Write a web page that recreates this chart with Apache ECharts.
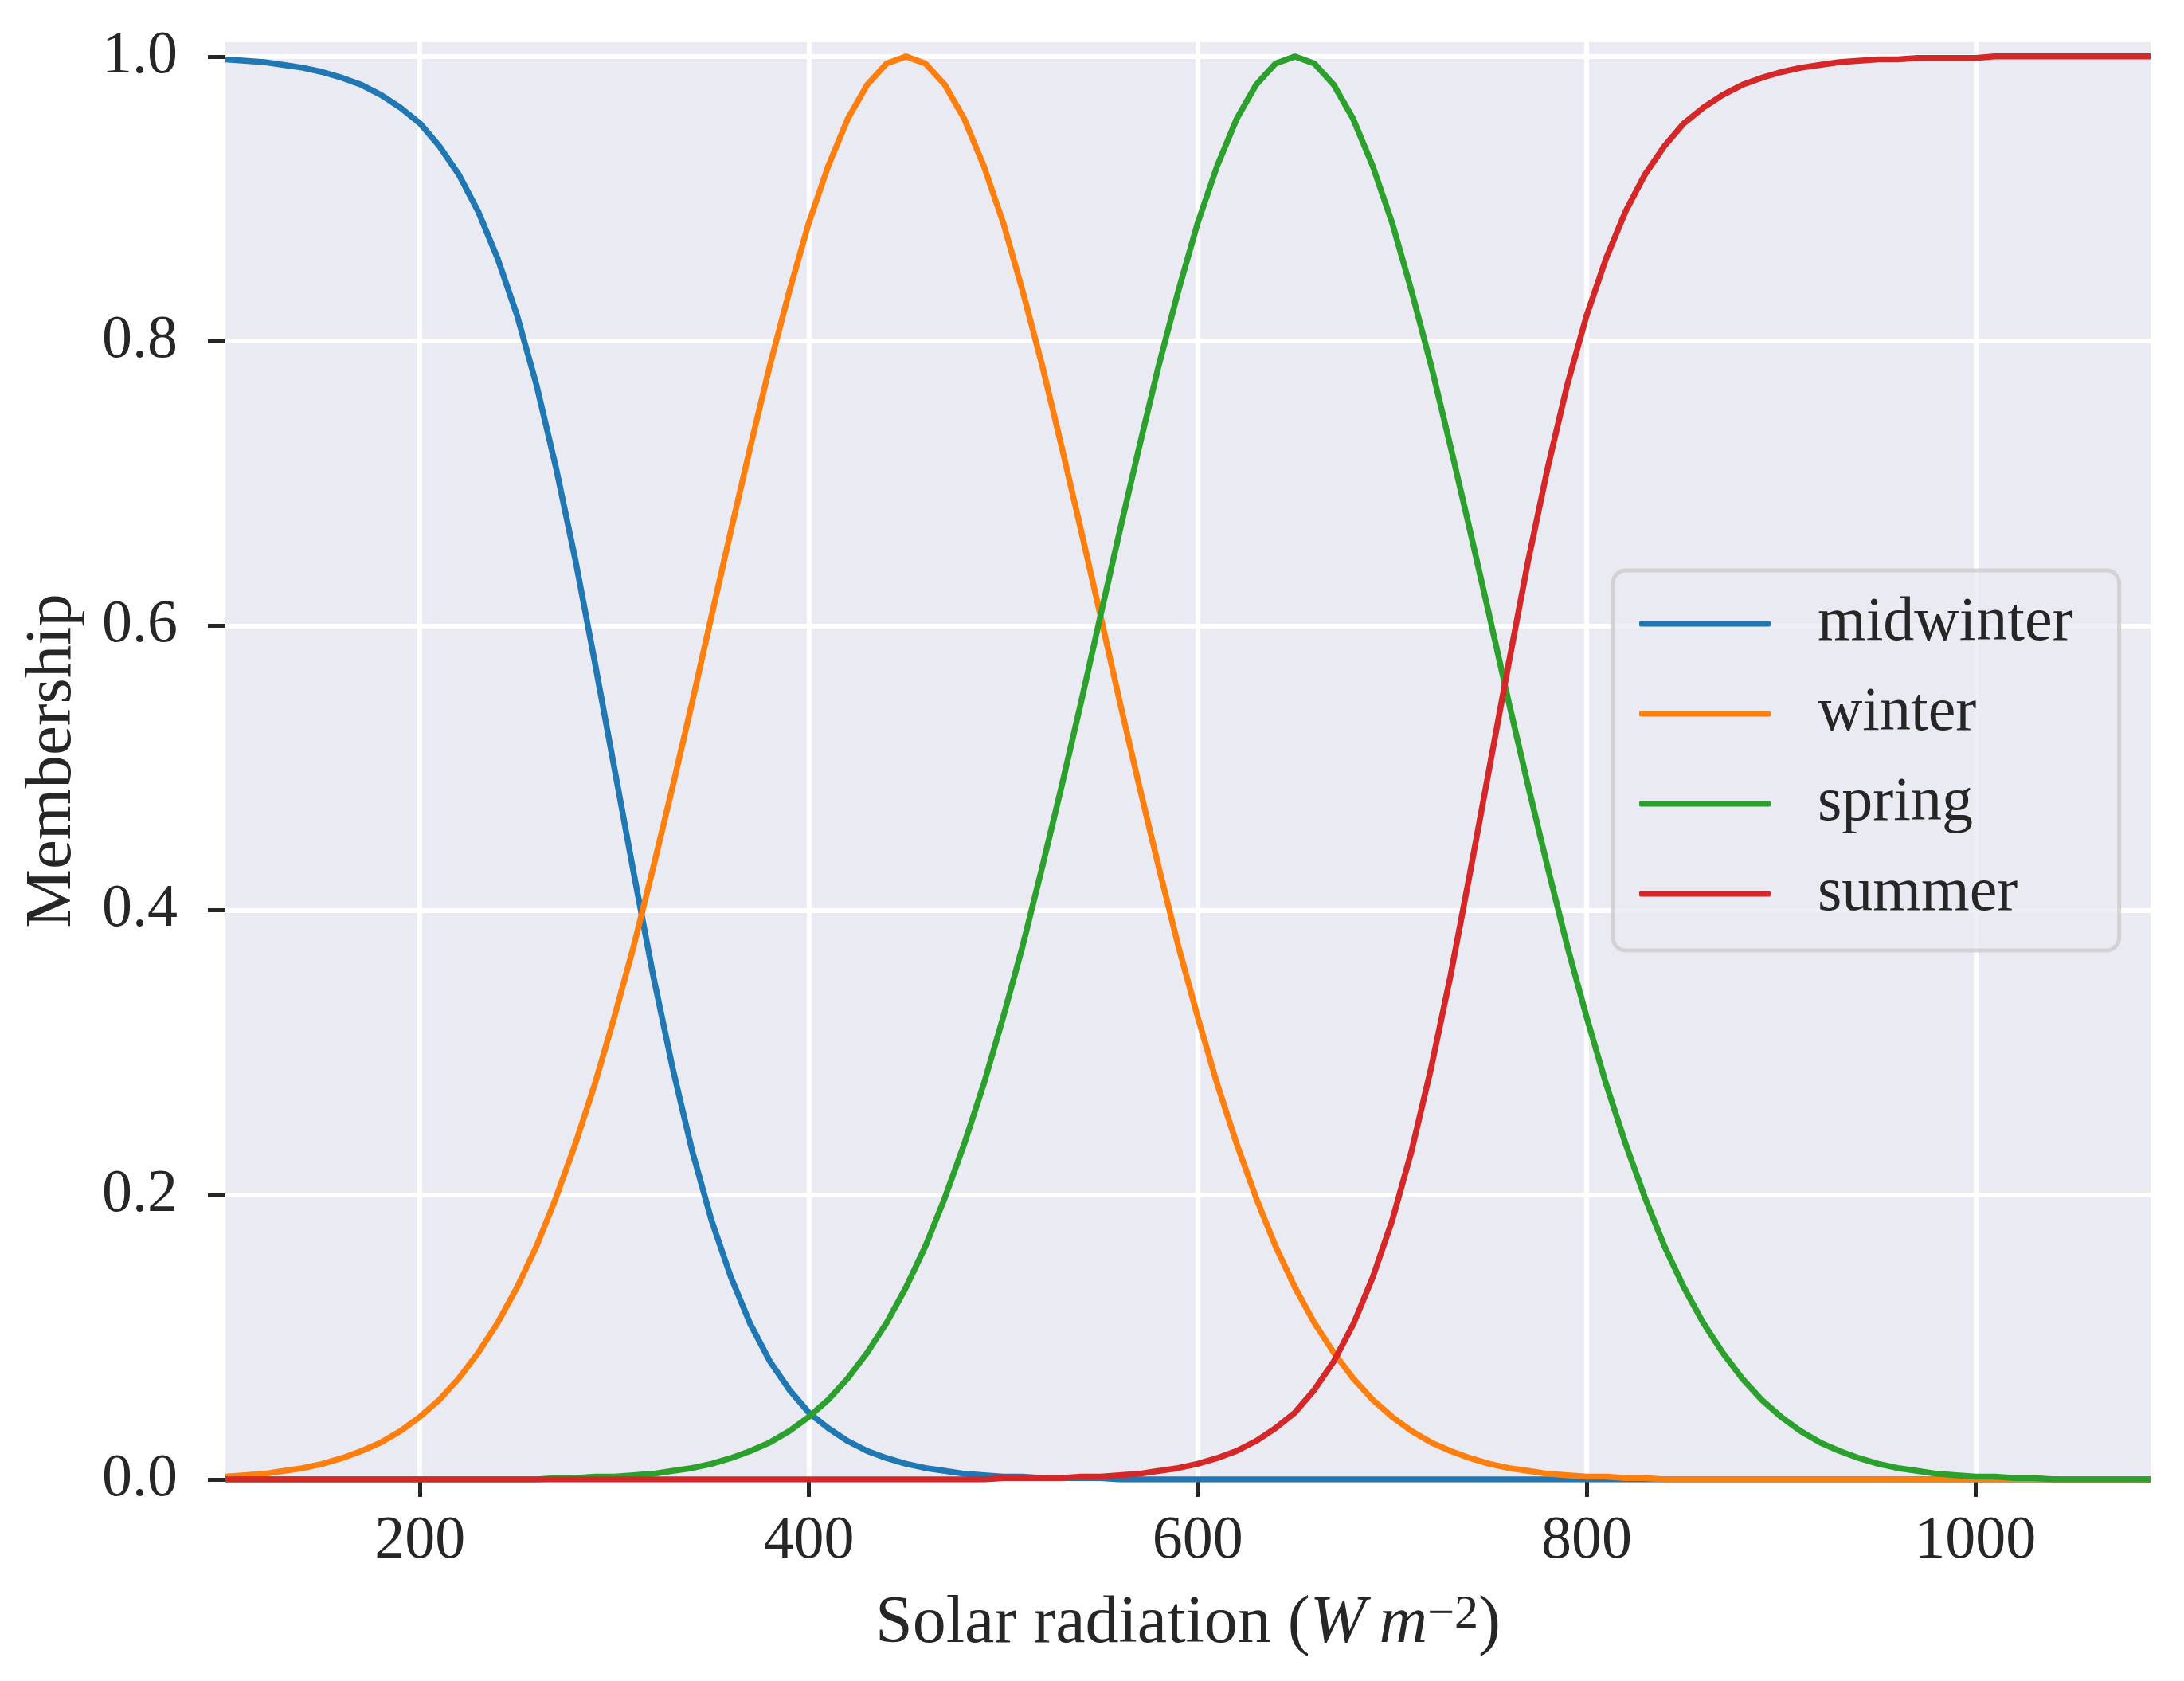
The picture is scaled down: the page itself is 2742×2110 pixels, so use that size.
<!DOCTYPE html>
<html>
<head>
<meta charset="utf-8">
<script src="https://cdn.jsdelivr.net/npm/echarts@6/dist/echarts.min.js"></script>
<style>
html, body { margin: 0; padding: 0; background: #fff; }
#chart { width: 2742px; height: 2110px; }
</style>
</head>
<body>
<div id="chart"></div>
<script>
// solar radiation samples (W m-2)
const radiation = [
  100, 110, 120, 130, 140, 150, 160, 170, 180, 190,
  200, 210, 220, 230, 240, 250, 260, 270, 280, 290,
  300, 310, 320, 330, 340, 350, 360, 370, 380, 390,
  400, 410, 420, 430, 440, 450, 460, 470, 480, 490,
  500, 510, 520, 530, 540, 550, 560, 570, 580, 590,
  600, 610, 620, 630, 640, 650, 660, 670, 680, 690,
  700, 710, 720, 730, 740, 750, 760, 770, 780, 790,
  800, 810, 820, 830, 840, 850, 860, 870, 880, 890,
  900, 910, 920, 930, 940, 950, 960, 970, 980, 990,
  1000, 1010, 1020, 1030, 1040, 1050, 1060, 1070, 1080, 1090
]

const midwinter = [
  0.998, 0.997, 0.996, 0.994, 0.992, 0.989, 0.985, 0.980, 0.973, 0.964,
  0.953, 0.937, 0.917, 0.891, 0.858, 0.818, 0.769, 0.711, 0.646, 0.574,
  0.500, 0.426, 0.354, 0.289, 0.231, 0.182, 0.142, 0.109, 0.083, 0.063,
  0.047, 0.036, 0.027, 0.020, 0.015, 0.011, 0.008, 0.006, 0.004, 0.003,
  0.002, 0.002, 0.001, 0.001, 0.001, 0.001, 0, 0, 0, 0,
  0, 0, 0, 0, 0, 0, 0, 0, 0, 0,
  0, 0, 0, 0, 0, 0, 0, 0, 0, 0,
  0, 0, 0, 0, 0, 0, 0, 0, 0, 0,
  0, 0, 0, 0, 0, 0, 0, 0, 0, 0,
  0, 0, 0, 0, 0, 0, 0, 0, 0, 0
]

const winter = [
  0.002, 0.003, 0.004, 0.006, 0.008, 0.011, 0.015, 0.020, 0.026, 0.034,
  0.044, 0.056, 0.071, 0.089, 0.110, 0.135, 0.164, 0.198, 0.236, 0.278,
  0.325, 0.375, 0.430, 0.487, 0.546, 0.607, 0.667, 0.726, 0.783, 0.835,
  0.883, 0.923, 0.956, 0.980, 0.995, 1.000, 0.995, 0.980, 0.956, 0.923,
  0.883, 0.835, 0.783, 0.726, 0.667, 0.607, 0.546, 0.487, 0.430, 0.375,
  0.325, 0.278, 0.236, 0.198, 0.164, 0.135, 0.110, 0.089, 0.071, 0.056,
  0.044, 0.034, 0.026, 0.020, 0.015, 0.011, 0.008, 0.006, 0.004, 0.003,
  0.002, 0.002, 0.001, 0.001, 0, 0, 0, 0, 0, 0,
  0, 0, 0, 0, 0, 0, 0, 0, 0, 0,
  0, 0, 0, 0, 0, 0, 0, 0, 0, 0
]

const spring = [
  0, 0, 0, 0, 0, 0, 0, 0, 0, 0,
  0, 0, 0, 0, 0, 0, 0, 0.001, 0.001, 0.002,
  0.002, 0.003, 0.004, 0.006, 0.008, 0.011, 0.015, 0.020, 0.026, 0.034,
  0.044, 0.056, 0.071, 0.089, 0.110, 0.135, 0.164, 0.198, 0.236, 0.278,
  0.325, 0.375, 0.430, 0.487, 0.546, 0.607, 0.667, 0.726, 0.783, 0.835,
  0.883, 0.923, 0.956, 0.980, 0.995, 1.000, 0.995, 0.980, 0.956, 0.923,
  0.883, 0.835, 0.783, 0.726, 0.667, 0.607, 0.546, 0.487, 0.430, 0.375,
  0.325, 0.278, 0.236, 0.198, 0.164, 0.135, 0.110, 0.089, 0.071, 0.056,
  0.044, 0.034, 0.026, 0.020, 0.015, 0.011, 0.008, 0.006, 0.004, 0.003,
  0.002, 0.002, 0.001, 0.001, 0, 0, 0, 0, 0, 0
]

const summer = [
  0, 0, 0, 0, 0, 0, 0, 0, 0, 0,
  0, 0, 0, 0, 0, 0, 0, 0, 0, 0,
  0, 0, 0, 0, 0, 0, 0, 0, 0, 0,
  0, 0, 0, 0, 0, 0, 0, 0, 0, 0,
  0.001, 0.001, 0.001, 0.001, 0.002, 0.002, 0.003, 0.004, 0.006, 0.008,
  0.011, 0.015, 0.020, 0.027, 0.036, 0.047, 0.063, 0.083, 0.109, 0.142,
  0.182, 0.231, 0.289, 0.354, 0.426, 0.500, 0.574, 0.646, 0.711, 0.769,
  0.818, 0.858, 0.891, 0.917, 0.937, 0.953, 0.964, 0.973, 0.980, 0.985,
  0.989, 0.992, 0.994, 0.996, 0.997, 0.998, 0.998, 0.999, 0.999, 0.999,
  0.999, 1, 1, 1, 1, 1, 1, 1, 1, 1
]

const seriesNames = ['midwinter', 'winter', 'spring', 'summer']
const seriesValues = [midwinter, winter, spring, summer]
const seriesColors = ['#1f77b4', '#ff7f0e', '#2ca02c', '#d62728']
const xTicks = [200, 400, 600, 800, 1000]
const yTicks = [0, 0.2, 0.4, 0.6, 0.8, 1.0]

const font = 'Liberation Serif'
const ink = '#262626'

const chart = echarts.init(document.getElementById('chart'))

const option = {
  animation: false,
  textStyle: { fontFamily: font, color: ink },
  grid: {
    left: 283, right: 42, top: 53, bottom: 253,
    show: true, backgroundColor: '#eaeaf2', borderWidth: 0,
    outerBoundsMode: 'none', containLabel: false
  },
  legend: {
    orient: 'vertical', left: 2025, top: 716,
    data: seriesNames,
    icon: 'roundRect',
    itemWidth: 165, itemHeight: 7, itemGap: 33,
    padding: [27, 58, 31, 33],
    backgroundColor: 'rgba(234,234,242,0.8)',
    borderColor: 'rgba(204,204,204,0.8)',
    borderWidth: 5, borderRadius: 16,
    selectedMode: false,
    textStyle: { fontFamily: font, fontSize: 78, color: ink, lineHeight: 80, padding: [0, 0, 0, 54] }
  },
  xAxis: {
    type: 'value', min: 100, max: 1090,
    name: '{n|Solar radiation (}{i|W\u2009m}{s|\u22122}{n|)}',
    nameLocation: 'middle', nameGap: 140,
    nameTextStyle: {
      rich: {
        n: { fontFamily: font, fontSize: 84, color: ink },
        i: { fontFamily: font, fontSize: 84, color: ink, fontStyle: 'italic' },
        s: { fontFamily: font, fontSize: 60, color: ink, verticalAlign: 'top' }
      }
    },
    axisLine: { show: false },
    axisTick: { show: true, length: 22, lineStyle: { color: ink, width: 5 }, customValues: xTicks },
    axisLabel: {
      customValues: xTicks, fontFamily: font, fontSize: 76, color: ink, margin: 40,
      formatter: v => String(v)
    },
    splitLine: { show: true, lineStyle: { color: '#ffffff', width: 6 } }
  },
  yAxis: {
    type: 'value', min: 0, max: 1.01,
    name: 'Membership', nameLocation: 'middle', nameGap: 175,
    nameTextStyle: { fontFamily: font, fontSize: 83, color: ink },
    axisLine: { show: false },
    axisTick: { show: true, length: 22, lineStyle: { color: ink, width: 5 }, customValues: yTicks },
    axisLabel: {
      customValues: yTicks, fontFamily: font, fontSize: 76, color: ink, margin: 60,
      formatter: v => v.toFixed(1)
    },
    splitLine: { show: true, lineStyle: { color: '#ffffff', width: 6 } }
  },
  series: seriesNames.map((name, i) => ({
    name: name,
    type: 'line',
    symbol: 'none',
    showSymbol: false,
    color: seriesColors[i],
    lineStyle: { color: seriesColors[i], width: 7.5 },
    itemStyle: { color: seriesColors[i] },
    emphasis: { disabled: true },
    clip: true,
    data: radiation.map((x, j) => [x, seriesValues[i][j]])
  }))
}

chart.setOption(option)
</script>
</body>
</html>
